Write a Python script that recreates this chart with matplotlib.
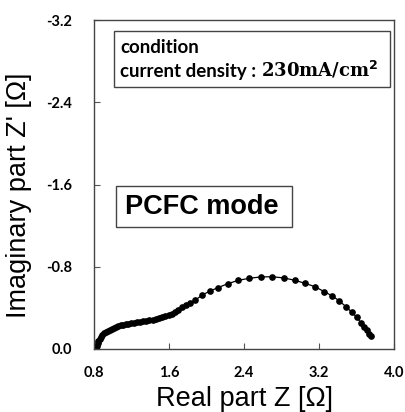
import matplotlib
matplotlib.use("Agg")
import matplotlib.pyplot as plt
from matplotlib.patches import Rectangle

# Nyquist data (real part, imaginary part in ohm)
z_real = [0.820, 0.828, 0.838, 0.848, 0.860, 0.874, 0.890, 0.907, 0.925, 0.945,
          0.966, 0.988, 1.010, 1.034, 1.058, 1.083, 1.110, 1.138, 1.167, 1.197,
          1.228, 1.260, 1.292, 1.325, 1.358, 1.392, 1.426, 1.460, 1.494, 1.528,
          1.562, 1.596, 1.630, 1.665, 1.700, 1.740, 1.782, 1.826, 1.875, 1.955,
          2.037, 2.126, 2.226, 2.339, 2.457, 2.578, 2.702, 2.827, 2.944, 3.051,
          3.157, 3.257, 3.342, 3.417, 3.488, 3.549, 3.602, 3.645, 3.680, 3.709,
          3.737, 3.752]
z_imag = [-0.005, -0.030, -0.055, -0.078, -0.100, -0.120, -0.138, -0.153, -0.166, -0.178,
          -0.189, -0.199, -0.207, -0.215, -0.222, -0.229, -0.235, -0.241, -0.246, -0.251,
          -0.256, -0.261, -0.266, -0.271, -0.276, -0.281, -0.286, -0.292, -0.299, -0.308,
          -0.318, -0.330, -0.345, -0.362, -0.383, -0.405, -0.425, -0.445, -0.472, -0.525,
          -0.564, -0.598, -0.635, -0.668, -0.688, -0.701, -0.703, -0.691, -0.668, -0.639,
          -0.606, -0.557, -0.516, -0.467, -0.411, -0.357, -0.308, -0.256, -0.217, -0.185,
          -0.146, -0.128]

x_ticks = [0.8, 1.6, 2.4, 3.2, 4.0]
y_ticks = [-3.2, -2.4, -1.6, -0.8, 0.0]

fig = plt.figure(figsize=(4.05, 4.12), dpi=100)
ax = fig.add_axes([0.232, 0.153, 0.741, 0.798])

ax.plot(z_real, z_imag, color="black", lw=0.9, marker="o", ms=3.8, mec="black", mfc="black")

ax.set_xlim(0.8, 4.0)
ax.set_ylim(0.0, -3.2)
ax.set_xticks(x_ticks)
ax.set_yticks(y_ticks)
ax.set_xticklabels(["%.1f" % v for v in x_ticks], fontfamily="Lato", fontweight="bold", fontsize=10.5)
ax.set_yticklabels(["%.1f" % v for v in y_ticks], fontfamily="Lato", fontweight="bold", fontsize=10.5)
ax.tick_params(direction="in", length=4, width=0.8, color="#555555")
ax.tick_params(axis="x", pad=12)
ax.tick_params(axis="y", pad=16)
for sp in ax.spines.values():
    sp.set_color("#444444")
    sp.set_linewidth(1.0)

ax.set_xlabel("Real part Z [Ω]", fontfamily="Liberation Sans", fontsize=19.5)
ax.set_ylabel("Imaginary part Z' [Ω]", fontfamily="Liberation Sans", fontsize=19.5)
ax.xaxis.set_label_coords(0.5, -0.112)
ax.yaxis.set_label_coords(-0.205, 0.468)

# condition box
ax.add_patch(Rectangle((0.067, 0.796), 0.92, 0.171, transform=ax.transAxes,
                       fill=False, ec="#444444", lw=1.0, zorder=3))
ax.text(0.087, 0.916, "condition", transform=ax.transAxes, fontfamily="Lato",
        fontweight="bold", fontsize=13.5, va="center", ha="left")
t1 = ax.text(0.087, 0.827, "current density : ", transform=ax.transAxes, fontfamily="Lato",
             fontweight="bold", fontsize=13.5, va="baseline", ha="left")
ax.annotate("230mA/cm$^{\\mathbf{2}}$", xy=(1, 0), xycoords=t1, va="bottom", ha="left",
            fontfamily="DejaVu Serif", fontweight="bold", fontsize=13)

# mode label
ax.add_patch(Rectangle((0.073, 0.371), 0.587, 0.124, transform=ax.transAxes,
                       fill=False, ec="#444444", lw=1.0, zorder=3))
ax.text(0.36, 0.432, "PCFC mode", transform=ax.transAxes, fontfamily="Liberation Sans",
        fontweight="bold", fontsize=19.5, va="center", ha="center")

fig.savefig("out.png", dpi=100)
